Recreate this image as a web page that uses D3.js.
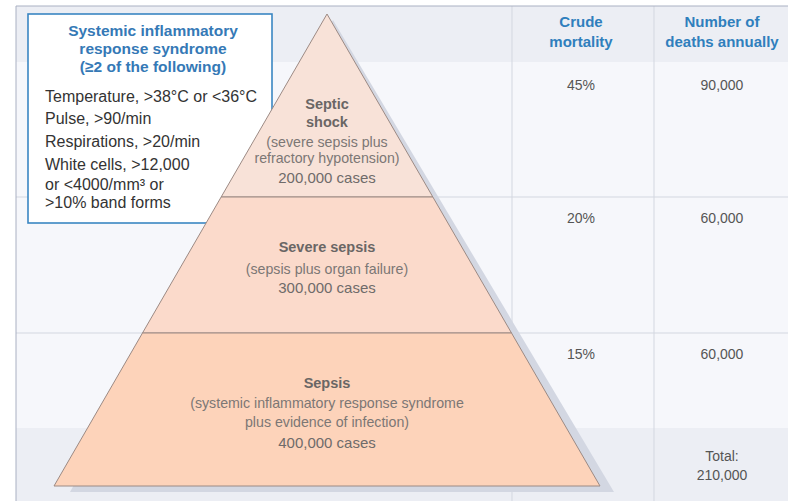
<!DOCTYPE html>
<html>
<head>
<meta charset="utf-8">
<script src="https://cdn.jsdelivr.net/npm/d3@7"></script>
<style>
  body { margin: 0; background: #fff; }
  svg { display: block; font-family: "Liberation Sans", Arial, sans-serif; }
</style>
</head>
<body>
<svg id="chart" width="788" height="501"></svg>
<script>

var tierTitles = [["Septic", "shock"], ["Severe sepsis"], ["Sepsis"]];
var tierNotes = [
  ["(severe sepsis plus", "refractory hypotension)"],
  ["(sepsis plus organ failure)"],
  ["(systemic inflammatory response syndrome", "plus evidence of infection)"]
];
var tierCases = [200000, 300000, 400000];
var mortality = [45, 20, 15];
var deaths = [90000, 60000, 60000];
var totalDeaths = 210000;
var columnHeaders = [["Crude", "mortality"], ["Number of", "deaths annually"]];
var sirsTitle = ["Systemic inflammatory", "response syndrome", "(\u22652 of the following)"];
var sirsItems = [
  "Temperature, >38\u00b0C or <36\u00b0C",
  "Pulse, >90/min",
  "Respirations, >20/min",
  "White cells, >12,000",
  "or <4000/mm\u00b3 or",
  ">10% band forms"
];
var tierFills = ["#f8e2d8", "#fbdacb", "#fdd3ba"];

var svg = d3.select("#chart");
var fmt = d3.format(",");

// tier boundaries: apex, two dividers, base
var y = d3.scaleLinear().domain([0, 1, 2, 3]).range([14, 197, 333, 486]);
var apexX = 327;
var halfW = d3.scaleLinear().domain([y(0), y(3)]).range([0, 273]);

// table frame and bands
svg.append("rect").attr("x", 16).attr("y", 6).attr("width", 772).attr("height", 495).style("fill", "#f6f7fb");
svg.append("rect").attr("x", 16).attr("y", 6).attr("width", 772).attr("height", 56).style("fill", "#eceef4");
svg.append("rect").attr("x", 16).attr("y", 428).attr("width", 772).attr("height", 73).style("fill", "#eceef4");

[y(1), y(2)].forEach(function(v) {
  svg.append("line").attr("x1", 16).attr("x2", 788).attr("y1", v).attr("y2", v)
    .style("stroke", "#d3d7e0").style("stroke-width", 1);
});
[512, 654].forEach(function(v) {
  svg.append("line").attr("x1", v).attr("x2", v).attr("y1", 6).attr("y2", 501)
    .style("stroke", "#d3d7e0").style("stroke-width", 1);
});
svg.append("line").attr("x1", 16).attr("x2", 788).attr("y1", 6).attr("y2", 6).style("stroke", "#a9b0c2");
svg.append("line").attr("x1", 16).attr("x2", 16).attr("y1", 6).attr("y2", 501).style("stroke", "#a9b0c2");

// SIRS box (sits under the pyramid)
var box = svg.append("g");
box.append("rect").attr("x", 28).attr("y", 14).attr("width", 244).attr("height", 209)
  .style("fill", "#fff").style("stroke", "#3a86c2").style("stroke-width", 1.6);
sirsTitle.forEach(function(t, i) {
  box.append("text").text(t).attr("x", 153).attr("y", 36 + i * 18)
    .style("fill", "#3579b6").style("font-size", "15.5px").style("font-weight", "bold")
    .style("text-anchor", "middle");
});
var itemY = [102, 124, 147, 170, 190, 208];
sirsItems.forEach(function(t, i) {
  box.append("text").text(t).attr("x", 45).attr("y", itemY[i])
    .style("fill", "#333").style("font-size", "16px");
});

// pyramid shadow
var shadow = [[apexX + 6, y(0) + 6], [apexX + halfW(y(3)) + 14, y(3) + 6], [apexX - halfW(y(3)) + 16, y(3) + 6]];
svg.append("path").attr("d", d3.line()(shadow)).style("fill", "#d3d7e2");

// pyramid tiers
d3.range(3).forEach(function(i) {
  var y0 = y(i), y1 = y(i + 1);
  var pts = [[apexX - halfW(y0), y0], [apexX + halfW(y0), y0], [apexX + halfW(y1), y1], [apexX - halfW(y1), y1]];
  svg.append("path").attr("d", d3.line()(pts) + "Z")
    .style("fill", tierFills[i]).style("stroke", "#9c8a84").style("stroke-width", 1).style("stroke-linejoin", "round");
});

// tier labels: title lines, note lines, cases
var titleY = [[109, 127], [252], [388]];
var noteY = [[147, 163], [274], [408, 427]];
var casesY = [183, 293, 448];
d3.range(3).forEach(function(i) {
  var g = svg.append("g");
  tierTitles[i].forEach(function(t, j) {
    g.append("text").text(t).attr("x", apexX).attr("y", titleY[i][j])
      .style("fill", "#6a6665").style("font-size", "14.5px").style("font-weight", "bold").style("text-anchor", "middle");
  });
  tierNotes[i].forEach(function(t, j) {
    g.append("text").text(t).attr("x", apexX).attr("y", noteY[i][j])
      .style("fill", "#7c7775").style("font-size", "14.2px").style("text-anchor", "middle");
  });
  g.append("text").text(fmt(tierCases[i]) + " cases").attr("x", apexX).attr("y", casesY[i])
    .style("fill", "#6f6b6a").style("font-size", "15px").style("text-anchor", "middle");
});

// table headers
var colX = [581, 722];
columnHeaders.forEach(function(h, c) {
  h.forEach(function(t, j) {
    svg.append("text").text(t).attr("x", colX[c]).attr("y", 27 + j * 20)
      .style("fill", "#2f7fbd").style("font-size", "15px").style("font-weight", "bold").style("text-anchor", "middle");
  });
});

// table values
d3.range(3).forEach(function(i) {
  var vy = i === 0 ? y(0) + 76 : y(i) + 26;
  svg.append("text").text(mortality[i] + "%").attr("x", colX[0]).attr("y", vy)
    .style("fill", "#555").style("font-size", "14px").style("text-anchor", "middle");
  svg.append("text").text(fmt(deaths[i])).attr("x", colX[1]).attr("y", vy)
    .style("fill", "#555").style("font-size", "14px").style("text-anchor", "middle");
});
svg.append("text").text("Total:").attr("x", colX[1]).attr("y", 461)
  .style("fill", "#555").style("font-size", "14px").style("text-anchor", "middle");
svg.append("text").text(fmt(totalDeaths)).attr("x", colX[1]).attr("y", 480)
  .style("fill", "#555").style("font-size", "14px").style("text-anchor", "middle");

</script>
</body>
</html>
